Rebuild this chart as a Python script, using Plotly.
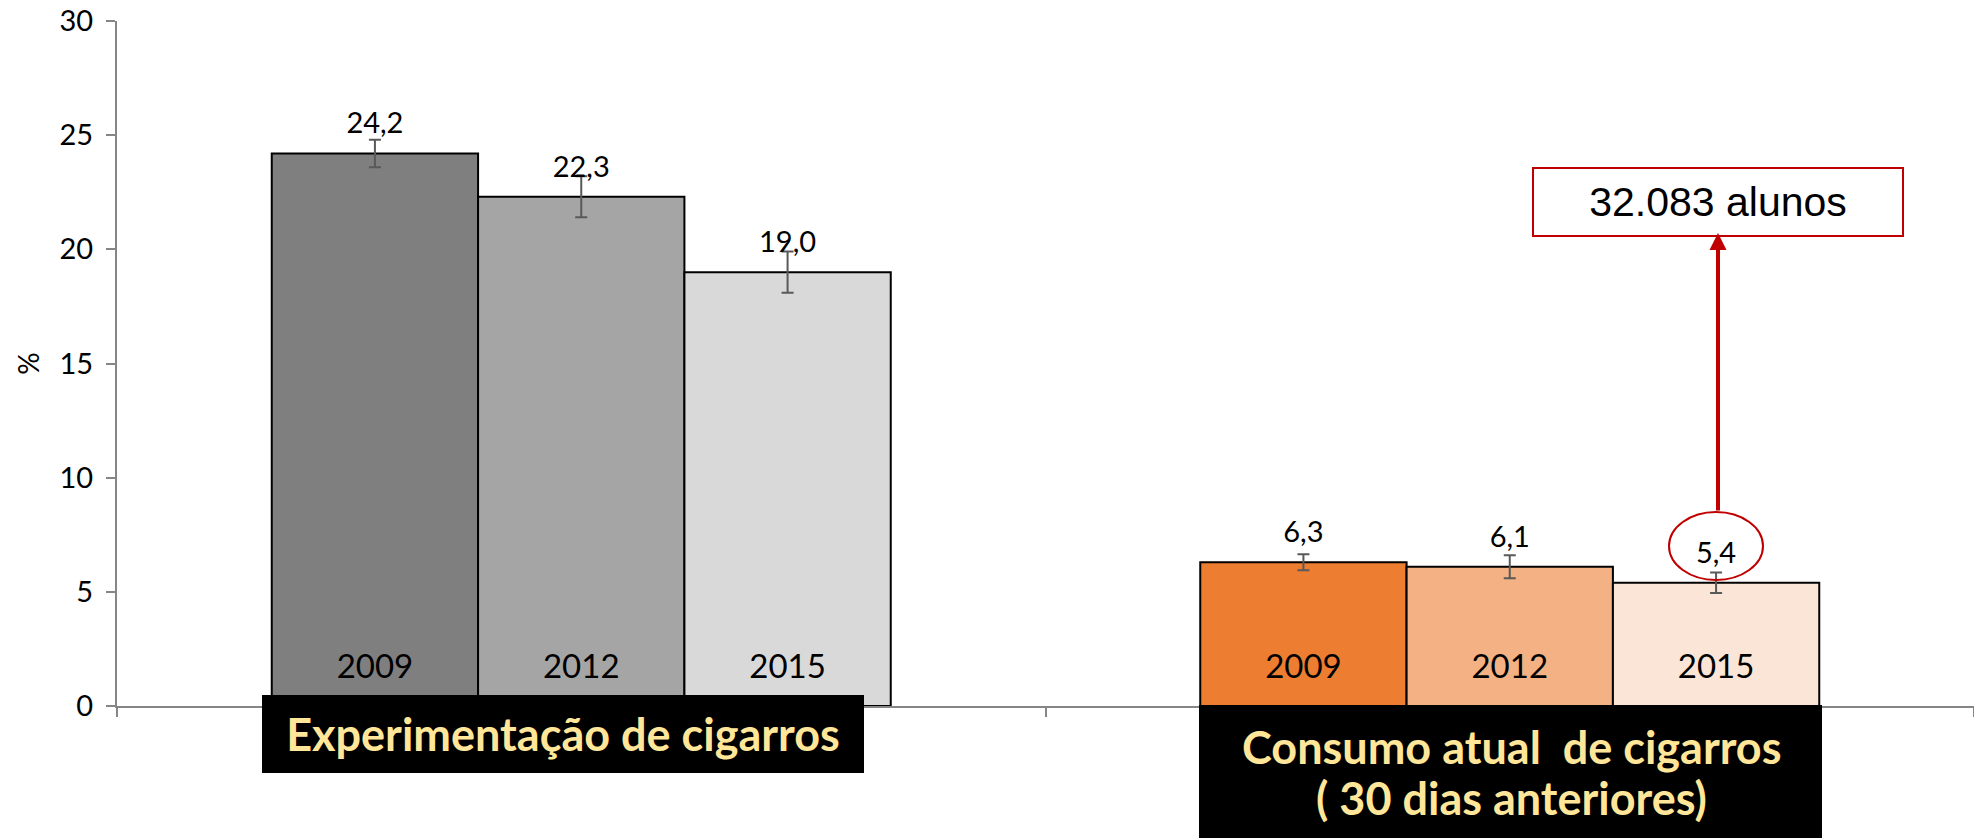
import plotly.graph_objects as go

# ---------------- data ----------------
categories = ["Experimentação de cigarros", "Consumo atual de cigarros (30 dias anteriores)"]
years = ["2009", "2012", "2015"]
values_2009 = [24.2, 6.3]
values_2012 = [22.3, 6.1]
values_2015 = [19.0, 5.4]
errors_2009 = [0.6, 0.35]
errors_2012 = [0.9, 0.5]
errors_2015 = [0.9, 0.45]
grey_colors = ["#7f7f7f", "#a5a5a5", "#d9d9d9"]
orange_colors = ["#ed7d31", "#f4b183", "#fbe5d6"]
y_ticks = [0, 5, 10, 15, 20, 25, 30]
callout_text = "32.083 alunos"
box1_label = "Experimentação de cigarros"
box2_lines = ["Consumo atual\u00a0 de cigarros", "( 30 dias anteriores)"]

series_values = [values_2009, values_2012, values_2015]
series_errors = [errors_2009, errors_2012, errors_2015]

# ---------------- layout geometry ----------------
W, H = 1974, 838
L, R, T, B = 117, 0, 21, 132
PW, PH = W - L - R, H - T - B


def px(xp):
    return (xp - L) / PW


def py(yp):
    return (H - B - yp) / PH


FONT = "Lato"
LABEL_YELLOW = "#ffe699"
fig = go.Figure()

for i, yr in enumerate(years):
    fig.add_trace(go.Bar(
        x=categories, y=series_values[i], name=yr,
        offsetgroup=yr,
        marker=dict(color=[grey_colors[i], orange_colors[i]],
                    line=dict(color="black", width=2)),
        error_y=dict(type="data", array=series_errors[i], visible=True,
                     color="#595959", thickness=2, width=6),
        hoverinfo="skip", showlegend=False,
    ))

for i, yr in enumerate(years):
    # value labels above bars
    fig.add_trace(go.Scatter(
        x=categories, y=series_values[i], offsetgroup=yr, orientation="v",
        mode="markers+text",
        marker=dict(size=19, opacity=0),
        text=[f"{v:.1f}".replace(".", ",") for v in series_values[i]],
        textposition="top center",
        textfont=dict(family=FONT, size=29, color="black"),
        cliponaxis=False, hoverinfo="skip", showlegend=False,
    ))
    # year labels inside the bars
    fig.add_trace(go.Scatter(
        x=categories, y=[0, 0], offsetgroup=yr, orientation="v",
        mode="markers+text",
        marker=dict(size=30, opacity=0),
        text=[yr, yr],
        textposition="top center",
        textfont=dict(family=FONT, size=33, color="black"),
        cliponaxis=False, hoverinfo="skip", showlegend=False,
    ))

box_font = dict(family=FONT, size=45, color=LABEL_YELLOW, weight="bold")
annotations = [
    # black category box 1
    dict(xref="paper", yref="paper", x=px(262), y=py(695), xanchor="left", yanchor="top",
         text=box1_label, showarrow=False, bgcolor="black", borderpad=0, borderwidth=0,
         width=602, height=78, align="center", valign="middle", font=box_font),
    # category box 2 text lines
    dict(xref="paper", yref="paper", x=px(1511), y=py(747), xanchor="center", yanchor="middle",
         text=box2_lines[0], showarrow=False, font=box_font),
    dict(xref="paper", yref="paper", x=px(1511), y=py(798), xanchor="center", yanchor="middle",
         text=box2_lines[1], showarrow=False, font=box_font),
    # callout box
    dict(xref="paper", yref="paper", x=px(1532), y=py(167), xanchor="left", yanchor="top",
         text=callout_text, showarrow=False, bgcolor="white", bordercolor="#c00000",
         borderwidth=2, borderpad=0, width=368, height=66, align="center", valign="middle",
         font=dict(family="Liberation Sans", size=41, color="black")),
    # arrow
    dict(xref="paper", yref="paper", x=px(1718), y=py(233), ax=0, ay=512 - 233,
         text="", showarrow=True, arrowhead=2, arrowsize=0.85, arrowwidth=4,
         arrowcolor="#c00000", standoff=0, startstandoff=0),
]

shapes = [
    dict(type="rect", xref="paper", yref="paper",
         x0=px(1199), x1=px(1822), y0=py(860), y1=py(705),
         line=dict(width=0), fillcolor="black", layer="above"),
    dict(type="circle", xref="paper", yref="paper",
         x0=px(1669), x1=px(1763), y0=py(580), y1=py(512),
         line=dict(color="#c00000", width=2), fillcolor="rgba(0,0,0,0)"),
]

fig.update_layout(
    width=W, height=H,
    margin=dict(l=L, r=R, t=T, b=B, pad=0),
    barmode="group", bargap=1/3, bargroupgap=0,
    scattermode="group", scattergap=1/3,
    plot_bgcolor="white", paper_bgcolor="white",
    font=dict(family=FONT, color="black"),
    annotations=annotations, shapes=shapes,
    xaxis=dict(type="category", showticklabels=False, showgrid=False, zeroline=False,
               showline=True, linecolor="#868686", linewidth=2,
               ticks="outside", tickson="boundaries", ticklen=9, tickwidth=2,
               tickcolor="#868686"),
    yaxis=dict(range=[0, 30], tickvals=y_ticks, showgrid=False, zeroline=False,
               showline=True, linecolor="#868686", linewidth=2,
               ticks="outside", ticklen=9, tickwidth=2, tickcolor="#868686",
               ticklabelstandoff=7,
               tickfont=dict(family=FONT, size=29, color="black"),
               title=dict(text="%", standoff=12, font=dict(family=FONT, size=28, color="black"))),
)

fig.write_html("out.html")
